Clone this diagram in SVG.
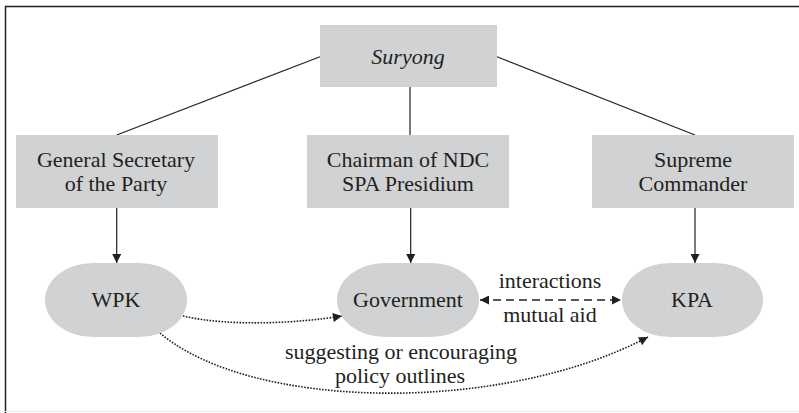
<svg xmlns="http://www.w3.org/2000/svg" width="799" height="413" viewBox="0 0 799 413">
  <style>
    .box { fill: #d1d2d4; }
    .lbl { font-size: 22px; fill: #231f20; text-anchor: middle; }
    .line { stroke: #231f20; stroke-width: 1.2; fill: none; }
    .dot { stroke: #231f20; stroke-width: 1.6; fill: none; stroke-dasharray: 1.6 1.4; }
    .dash { stroke: #231f20; stroke-width: 1.4; fill: none; stroke-dasharray: 8 5; }
  </style>
  <defs>
    <marker id="ah" viewBox="0 0 10 10" refX="10" refY="5" markerWidth="10" markerHeight="9" markerUnits="userSpaceOnUse" orient="auto-start-reverse">
      <path d="M0,0 L10,5 L0,10 z" fill="#231f20"/>
    </marker>
  </defs>
  <rect width="799" height="413" fill="#ffffff"/>
  <!-- frame -->
  <path d="M5.5,413 V6.5 H799" stroke="#231f20" stroke-width="1.5" fill="none"/>
  <line x1="5" y1="411.5" x2="799" y2="411.5" stroke="#e6e6e6" stroke-width="1"/>

  <g font-family="Liberation Serif, DejaVu Serif, serif">
  <g id="connectors">
    <line class="line" x1="320" y1="56.7" x2="116.7" y2="135"/>
    <line class="line" x1="410" y1="87" x2="410" y2="135"/>
    <line class="line" x1="497" y1="56.7" x2="695" y2="135"/>
    <line class="line" x1="116.7" y1="208" x2="116.7" y2="263" marker-end="url(#ah)"/>
    <line class="line" x1="410.7" y1="208" x2="410.7" y2="263" marker-end="url(#ah)"/>
    <line class="line" x1="695" y1="208" x2="695" y2="263" marker-end="url(#ah)"/>
    <path class="dot" d="M183,316 C 230,327 300,323 342,316" marker-end="url(#ah)"/>
    <path class="dot" d="M160,333 C 250,410 500,415 648,337" marker-end="url(#ah)"/>
    <line class="dash" x1="480" y1="300" x2="621" y2="300" marker-start="url(#ah)" marker-end="url(#ah)"/>
    <text class="lbl" x="550" y="288">interactions</text>
    <text class="lbl" x="550" y="321.5">mutual aid</text>
    <text class="lbl" x="401" y="359">suggesting or encouraging</text>
    <text class="lbl" x="400" y="382.5">policy outlines</text>
  </g>

  <g id="suryong">
    <rect class="box" x="320" y="25" width="177" height="62"/>
    <text class="lbl" x="408" y="64" font-style="italic">Suryong</text>
  </g>
  <g id="general-secretary">
    <rect class="box" x="16" y="135" width="202" height="73"/>
    <text class="lbl" x="116" y="166.5">General Secretary</text>
    <text class="lbl" x="116" y="190.5">of the Party</text>
  </g>
  <g id="chairman">
    <rect class="box" x="307" y="135" width="202" height="73"/>
    <text class="lbl" x="408" y="166.5">Chairman of NDC</text>
    <text class="lbl" x="408" y="190.5">SPA Presidium</text>
  </g>
  <g id="supreme-commander">
    <rect class="box" x="592" y="135" width="202" height="73"/>
    <text class="lbl" x="693" y="166.5">Supreme</text>
    <text class="lbl" x="693" y="190.5">Commander</text>
  </g>
  <g id="wpk">
    <rect class="box" x="45" y="263" width="142" height="74" rx="48" ry="37"/>
    <text class="lbl" x="116" y="306.5">WPK</text>
  </g>
  <g id="government">
    <rect class="box" x="337" y="263" width="142" height="74" rx="48" ry="37"/>
    <text class="lbl" x="408" y="306.5">Government</text>
  </g>
  <g id="kpa">
    <rect class="box" x="622" y="263" width="141" height="74" rx="48" ry="37"/>
    <text class="lbl" x="692" y="306.5">KPA</text>
  </g>
  </g>
</svg>
